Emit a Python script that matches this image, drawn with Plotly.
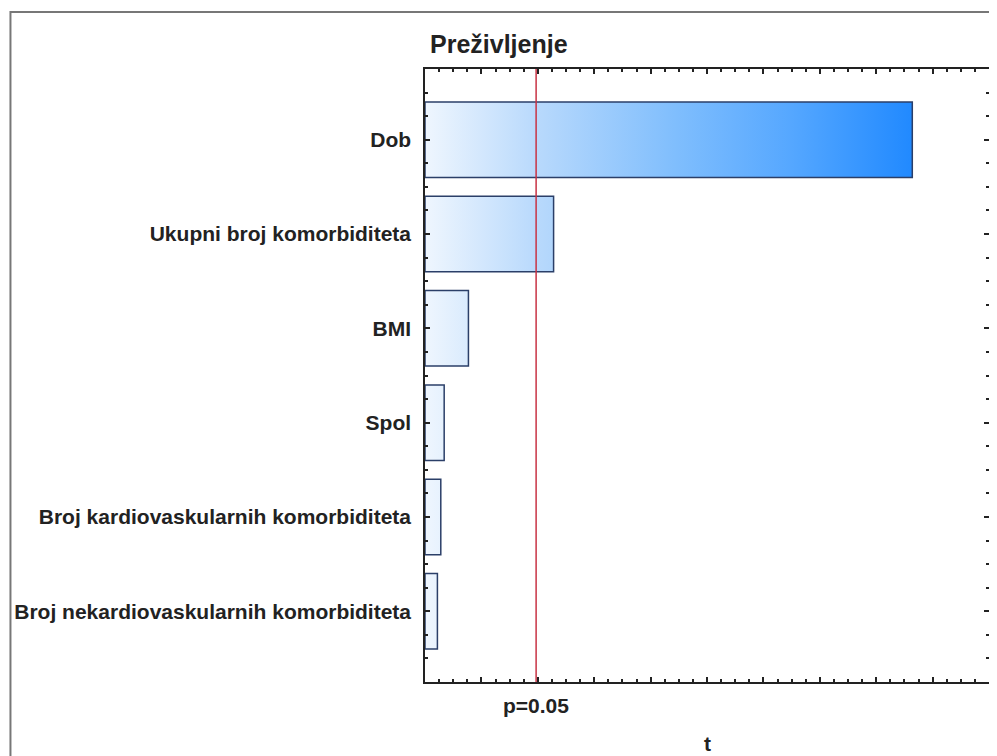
import plotly.graph_objects as go

# ---- data ----
factors = ["Dob", "Ukupni broj komorbiditeta", "BMI", "Spol",
           "Broj kardiovaskularnih komorbiditeta",
           "Broj nekardiovaskularnih komorbiditeta"]
t_values = [8.64, 2.28, 0.77, 0.34, 0.28, 0.22]
t_crit = 1.97
crit_label = "p=0.05"
title_text = "Preživljenje"
x_title = "t"

FONT = "Liberation Sans, Arial, sans-serif"
bar_h = 0.8

# Build bar outlines (closed rectangles) from data through axis scales
xs, ys = [], []
for i, v in enumerate(t_values):
    y0, y1 = i - bar_h / 2, i + bar_h / 2
    xs += [0, v, v, 0, 0, None]
    ys += [y0, y0, y1, y1, y0, None]

fig = go.Figure()
fig.add_trace(go.Scatter(
    x=xs, y=ys, mode="lines", fill="toself",
    line=dict(color="#2b3f68", width=1.5),
    fillgradient=dict(
        type="horizontal", start=0, stop=max(t_values),
        colorscale=[[0.0, "#eff6fe"], [0.23, "#b8d9fc"], [0.51, "#80befd"],
                    [0.75, "#55a7ff"], [1.0, "#2089ff"]],
    ),
    hoverinfo="skip", showlegend=False,
))

fig.add_shape(type="line", xref="x", yref="paper", x0=t_crit, x1=t_crit,
              y0=0, y1=1, line=dict(color="#c83344", width=1.5))

# outer frame
fig.add_shape(type="rect", xref="paper", yref="paper",
              x0=-0.735, x1=1.03, y0=-0.3, y1=1.093,
              line=dict(color="#777777", width=2))

fig.add_annotation(x=t_crit, xref="x", y=-0.038, yref="paper",
                   text="<b>" + crit_label + "</b>", showarrow=False,
                   font=dict(family=FONT, size=21, color="#222222"),
                   xanchor="center", yanchor="middle")
fig.add_annotation(x=0.5, xref="paper", y=-0.101, yref="paper",
                   text="<b>" + x_title + "</b>", showarrow=False,
                   font=dict(family=FONT, size=21, color="#222222"),
                   xanchor="center", yanchor="middle")

fig.update_layout(
    width=989, height=748,
    margin=dict(l=417, r=6, t=61, b=74),
    paper_bgcolor="white", plot_bgcolor="white",
    title=dict(text="<b>" + title_text + "</b>", x=422 / 989, xref="container",
               xanchor="left", y=1 - 36 / 748, yref="container",
               yanchor="middle",
               font=dict(family=FONT, size=25, color="#222222")),
    xaxis=dict(range=[0, 10], showgrid=False, zeroline=False,
               showticklabels=False, ticks="inside", ticklen=5,
               tickwidth=1.5, tickcolor="#222222", tick0=0, dtick=1,
               minor=dict(ticks="inside", ticklen=3, tick0=0, dtick=0.25,
                          tickcolor="#222222", showgrid=False),
               showline=True, linecolor="#222222", linewidth=1.5,
               mirror="allticks"),
    yaxis=dict(range=[5.75, -0.75], showgrid=False, zeroline=False,
               tickvals=list(range(len(factors))),
               ticktext=["<b>" + f + "</b>" for f in factors],
               tickfont=dict(family=FONT, size=21, color="#222222"),
               ticks="inside", ticklen=5, tickwidth=1.5,
               tickcolor="#222222", ticklabelstandoff=8,
               minor=dict(ticks="inside", ticklen=3, tick0=0, dtick=0.25,
                          tickcolor="#222222", showgrid=False),
               showline=True, linecolor="#222222", linewidth=1.5,
               mirror="allticks"),
)

fig.write_html("out.html")
